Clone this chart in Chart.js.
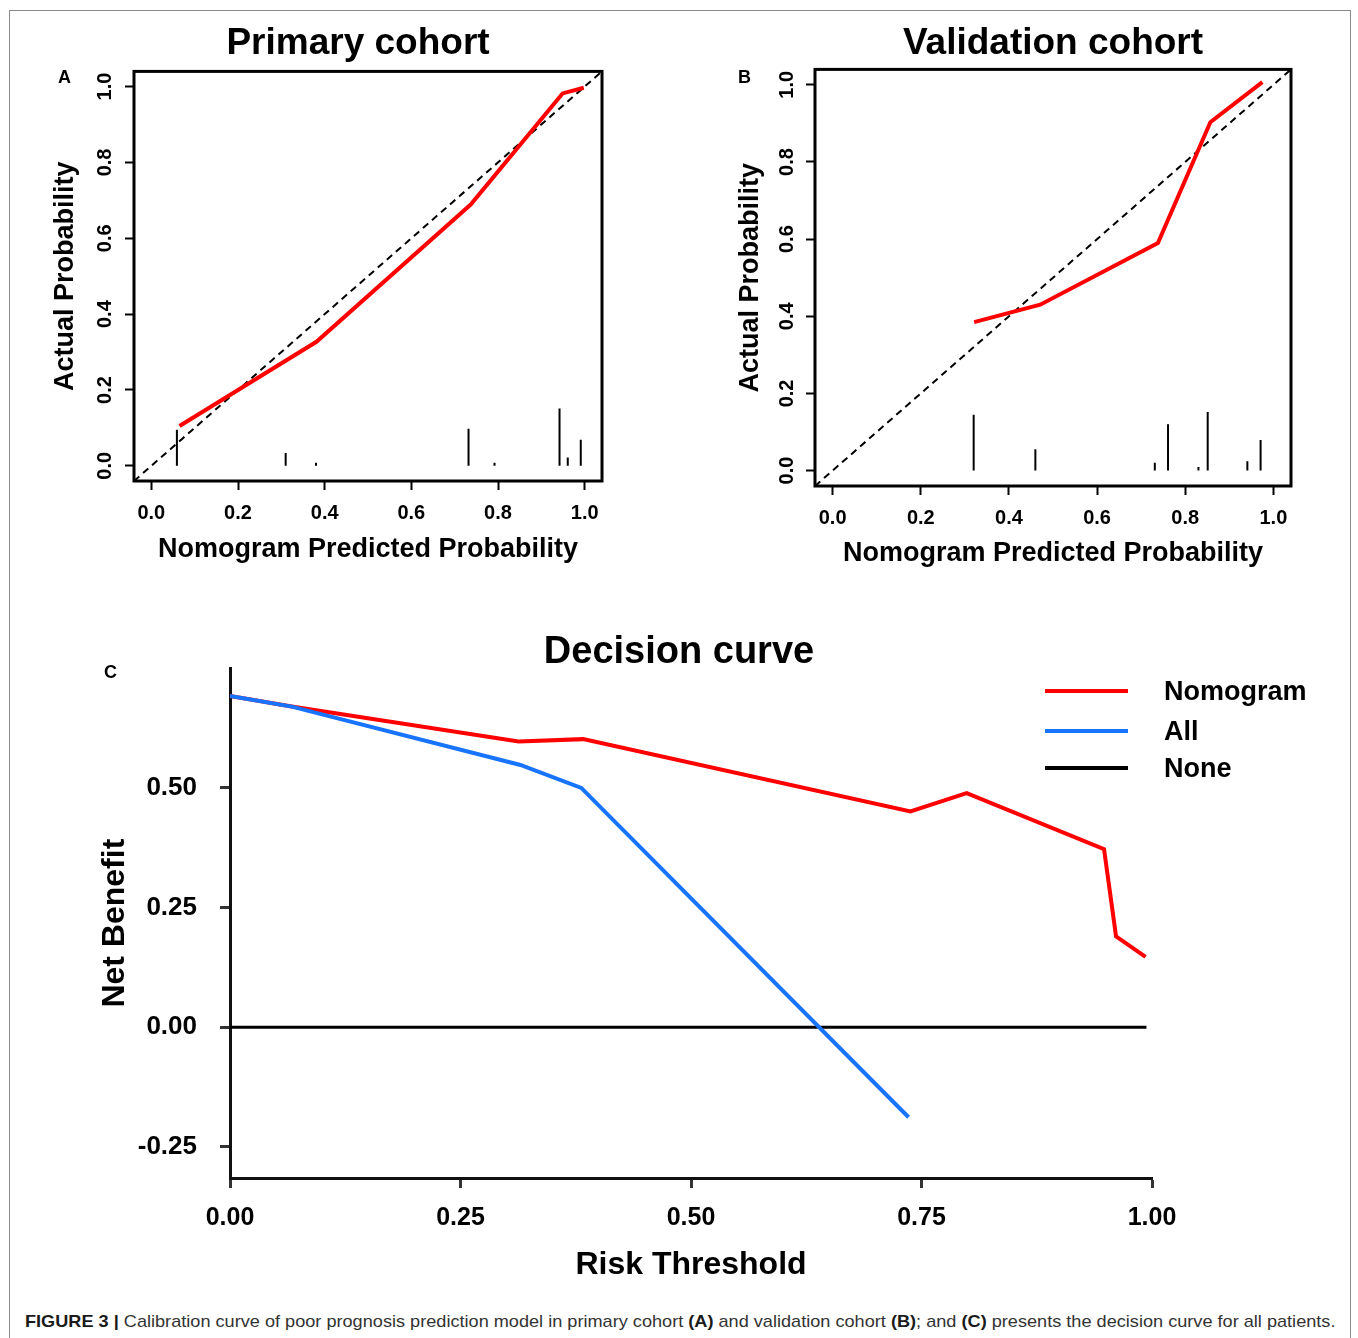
<!DOCTYPE html>
<html lang="en">
<head>
  <meta charset="UTF-8">
  <title>Figure 3 - Calibration and decision curves</title>
  <script src="https://cdn.jsdelivr.net/npm/chart.js"></script>
  <style>
    body {
      margin: 0;
      background: #fff;
      font-family: 'Liberation Sans', Arial, sans-serif;
    }
    .figure {
      position: relative;
      width: 1358px;
      height: 1338px;
      overflow: hidden;
    }
    .frame {
      position: absolute;
      left: 9px;
      top: 10px;
      width: 1340px;
      height: 1360px;
      border: 1px solid #8a8a8a;
    }
    canvas { position: absolute; }
    #chartA { left: 0; top: 0; }
    #chartB { left: 716px; top: 0; }
    #chartC { left: 0; top: 600px; }
    .panel {
      position: absolute;
      font-weight: bold;
      font-size: 18px;
      line-height: 18px;
      color: #000;
    }
    .caption {
      position: absolute;
      left: 25px;
      top: 1312px;
      font-size: 17px;
      line-height: 20px;
      color: #333;
      white-space: nowrap;
      transform-origin: left top;
    }
    .caption b { color: #1a1a1a; }
  </style>
</head>
<body>
  <div class="figure">
    <div class="frame"></div>
    <canvas id="chartA" width="716" height="600"></canvas>
    <canvas id="chartB" width="642" height="600"></canvas>
    <canvas id="chartC" width="1358" height="700"></canvas>
    <div class="panel" style="left:58px; top:68px;">A</div>
    <div class="panel" style="left:738px; top:68px;">B</div>
    <div class="panel" style="left:104px; top:663px;">C</div>
    <div class="caption" id="caption"><b>FIGURE 3 |</b> Calibration curve of poor prognosis prediction model in primary cohort <b>(A)</b> and validation cohort <b>(B)</b>; and <b>(C)</b> presents the decision curve for all patients.</div>
  </div>

  <script>
    const FONT = "'Liberation Sans', Arial, Helvetica, sans-serif";

    // calibration plots
    const calTicks = [0, 0.2, 0.4, 0.6, 0.8, 1.0];
    const idealLine = [-0.04, 1.04];

    const primaryPred = [0.065, 0.381, 0.737, 0.949, 0.998];
    const primaryObs = [0.105, 0.327, 0.689, 0.982, 0.997];
    const primarySpikeX = [0.059, 0.310, 0.380, 0.732, 0.792, 0.942, 0.961, 0.991];
    const primarySpikeH = [0.095, 0.034, 0.008, 0.098, 0.008, 0.151, 0.022, 0.069];

    const validPred = [0.321, 0.471, 0.738, 0.857, 0.975];
    const validObs = [0.385, 0.430, 0.590, 0.903, 1.007];
    const validSpikeX = [0.320, 0.460, 0.731, 0.761, 0.830, 0.851, 0.941, 0.971];
    const validSpikeH = [0.145, 0.055, 0.020, 0.120, 0.009, 0.152, 0.024, 0.079];

    // decision curve
    const nomoThreshold = [0, 0.067, 0.313, 0.383, 0.738, 0.799, 0.948, 0.961, 0.993];
    const nomoBenefit = [0.692, 0.670, 0.597, 0.602, 0.451, 0.489, 0.372, 0.190, 0.147];
    const allThreshold = [0, 0.067, 0.315, 0.381, 0.736];
    const allBenefit = [0.692, 0.670, 0.548, 0.500, -0.188];
    const noneThreshold = [0, 0.994];
    const noneBenefit = [0, 0];
    const dcaXTicks = [0, 0.25, 0.5, 0.75, 1.0];
    const dcaYTicks = [-0.25, 0, 0.25, 0.5];

    function pts(xs, ys) {
      return xs.map((x, i) => ({ x: x, y: ys[i] }));
    }

    // vertical rug lines, broken apart with null points
    function spikes(xs, hs) {
      return xs.flatMap((x, i) => [{ x: x, y: 0 }, { x: x, y: hs[i] }, { x: x, y: null }]);
    }

    function fixedTicks(values) {
      return scale => { scale.ticks = values.map(v => ({ value: v })); };
    }

    // full box around the calibration plots
    const plotBox = {
      id: 'plotBox',
      afterDraw(chart) {
        const a = chart.chartArea;
        const ctx = chart.ctx;
        ctx.save();
        ctx.lineWidth = 3;
        ctx.strokeStyle = '#000';
        ctx.strokeRect(a.left, a.top, a.right - a.left, a.bottom - a.top);
        ctx.restore();
      }
    };

    // R-style legend with line samples
    const lineLegend = {
      id: 'lineLegend',
      afterDraw(chart, args, opts) {
        const ctx = chart.ctx;
        ctx.save();
        ctx.font = 'bold ' + opts.fontSize + 'px ' + FONT;
        ctx.textBaseline = 'middle';
        opts.order.forEach((idx, i) => {
          const ds = chart.data.datasets[idx];
          const y = opts.ys[i];
          ctx.strokeStyle = ds.borderColor;
          ctx.lineWidth = 4;
          ctx.beginPath();
          ctx.moveTo(opts.x, y);
          ctx.lineTo(opts.x + opts.lineW, y);
          ctx.stroke();
          ctx.fillStyle = '#000';
          ctx.fillText(ds.label, opts.textX, y + 2);
        });
        ctx.restore();
      }
    };

    function calibrationConfig(o) {
      return {
        type: 'line',
        data: {
          datasets: [
            { label: 'Nomogram', data: pts(o.pred, o.obs), borderColor: '#ff0000', borderWidth: 4, pointRadius: 0 },
            { label: 'Ideal', data: idealLine.map(v => ({ x: v, y: v })), borderColor: '#000', borderWidth: 2, borderDash: [7, 5], pointRadius: 0 },
            { label: 'Rug', data: spikes(o.spikeX, o.spikeH), borderColor: '#000', borderWidth: 2, pointRadius: 0, spanGaps: false }
          ]
        },
        options: {
          responsive: false,
          animation: false,
          plugins: {
            legend: { display: false },
            tooltip: { enabled: false },
            title: {
              display: true,
              text: o.title,
              fullSize: o.fullTitle,
              color: '#000',
              font: { family: FONT, size: 37, weight: 'bold', lineHeight: 1.2 },
              padding: { top: 22, bottom: o.titleGap }
            }
          },
          scales: {
            x: {
              type: 'linear',
              min: -0.04,
              max: 1.04,
              afterBuildTicks: fixedTicks(calTicks),
              afterFit: s => { s.height = o.xAxisH; },
              grid: { drawOnChartArea: false, tickLength: 9, tickWidth: 2, tickColor: '#000' },
              border: { display: false },
              ticks: {
                color: '#000',
                font: { family: FONT, size: 20, weight: 'bold' },
                padding: 11,
                maxRotation: 0,
                autoSkip: false,
                callback: v => Number(v).toFixed(1)
              },
              title: {
                display: true,
                text: 'Nomogram Predicted Probability',
                color: '#000',
                font: { family: FONT, size: 27, weight: 'bold', lineHeight: 1.2 },
                padding: { top: 0, bottom: o.xTitlePad }
              }
            },
            y: {
              type: 'linear',
              min: -0.04,
              max: 1.04,
              afterBuildTicks: fixedTicks(calTicks),
              afterFit: s => { s.width = o.yAxisW; },
              grid: { drawOnChartArea: false, tickLength: 9, tickWidth: 2, tickColor: '#000' },
              border: { display: false },
              ticks: {
                color: '#000',
                font: { family: FONT, size: 20, weight: 'bold' },
                padding: o.yTickPad,
                minRotation: 90,
                maxRotation: 90,
                crossAlign: 'center',
                autoSkip: false,
                callback: v => Number(v).toFixed(1)
              },
              title: {
                display: true,
                text: 'Actual Probability',
                color: '#000',
                font: { family: FONT, size: 27, weight: 'bold', lineHeight: 1.2 },
                padding: { top: o.yTitlePad, bottom: 0 }
              }
            },
            yR: {
              type: 'linear',
              position: 'right',
              grid: { display: false },
              border: { display: false },
              ticks: { display: false },
              afterFit: s => { s.width = o.rightW; }
            }
          }
        },
        plugins: [plotBox]
      };
    }

    new Chart(document.getElementById('chartA'), calibrationConfig({
      title: 'Primary cohort',
      fullTitle: true,
      titleGap: 5,
      pred: primaryPred, obs: primaryObs,
      spikeX: primarySpikeX, spikeH: primarySpikeH,
      xAxisH: 119, xTitlePad: 34,
      yAxisW: 134, yTickPad: 6, yTitlePad: 49,
      rightW: 114
    }));

    new Chart(document.getElementById('chartB'), calibrationConfig({
      title: 'Validation cohort',
      fullTitle: false,
      titleGap: 3,
      pred: validPred, obs: validObs,
      spikeX: validSpikeX, spikeH: validSpikeH,
      xAxisH: 114, xTitlePad: 30,
      yAxisW: 99, yTickPad: 5, yTitlePad: 18,
      rightW: 67
    }));

    new Chart(document.getElementById('chartC'), {
      type: 'line',
      data: {
        datasets: [
          { label: 'All', data: pts(allThreshold, allBenefit), borderColor: '#1874ff', borderWidth: 4, pointRadius: 0 },
          { label: 'Nomogram', data: pts(nomoThreshold, nomoBenefit), borderColor: '#ff0000', borderWidth: 4, pointRadius: 0 },
          { label: 'None', data: pts(noneThreshold, noneBenefit), borderColor: '#000', borderWidth: 3, pointRadius: 0 }
        ]
      },
      options: {
        responsive: false,
        animation: false,
        plugins: {
          legend: { display: false },
          tooltip: { enabled: false },
          title: {
            display: true,
            text: 'Decision curve',
            color: '#000',
            font: { family: FONT, size: 38, weight: 'bold', lineHeight: 0.85 },
            padding: { top: 36, bottom: 0 }
          },
          lineLegend: { order: [1, 0, 2], x: 1045, lineW: 83, textX: 1164, ys: [91, 131, 168], fontSize: 27 }
        },
        scales: {
          x: {
            type: 'linear',
            min: 0,
            max: 1,
            afterBuildTicks: fixedTicks(dcaXTicks),
            afterFit: s => { s.height = 122; },
            grid: { drawOnChartArea: false, tickLength: 10, tickWidth: 3, tickColor: '#333' },
            border: { display: true, color: '#111', width: 3 },
            ticks: {
              color: '#000',
              font: { family: FONT, size: 25, weight: 'bold' },
              padding: 15,
              maxRotation: 0,
              autoSkip: false,
              callback: v => Number(v).toFixed(2)
            },
            title: {
              display: true,
              text: 'Risk Threshold',
              color: '#000',
              font: { family: FONT, size: 32, weight: 'bold', lineHeight: 1.2 },
              padding: { top: 0, bottom: 16 }
            }
          },
          y: {
            type: 'linear',
            min: -0.315,
            max: 0.75,
            afterBuildTicks: fixedTicks(dcaYTicks),
            afterFit: s => { s.width = 230; },
            grid: { drawOnChartArea: false, tickLength: 10, tickWidth: 3, tickColor: '#333' },
            border: { display: true, color: '#111', width: 3 },
            ticks: {
              color: '#000',
              font: { family: FONT, size: 26, weight: 'bold' },
              padding: 23,
              autoSkip: false,
              callback: v => Number(v).toFixed(2)
            },
            title: {
              display: true,
              text: 'Net Benefit',
              color: '#000',
              font: { family: FONT, size: 32, weight: 'bold', lineHeight: 1.2 },
              padding: { top: 96, bottom: 0 }
            }
          },
          yR: {
            type: 'linear',
            position: 'right',
            grid: { display: false },
            border: { display: false },
            ticks: { display: false },
            afterFit: s => { s.width = 206; }
          }
        }
      },
      plugins: [lineLegend]
    });

    // squeeze the caption to the width used in the figure
    const cap = document.getElementById('caption');
    cap.style.transform = 'scaleX(' + (1310 / cap.scrollWidth) + ')';
  </script>
</body>
</html>
